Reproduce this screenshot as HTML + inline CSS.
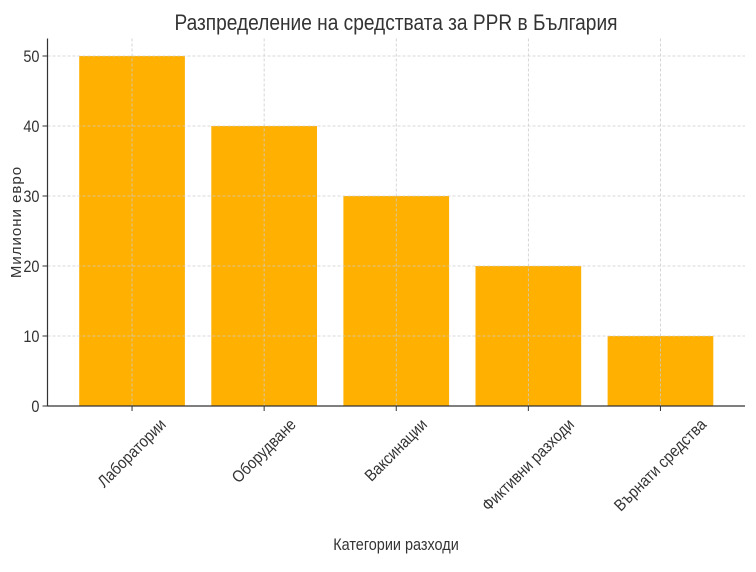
<!DOCTYPE html>
<html><head><meta charset="utf-8"><style>
body{margin:0;background:#fff}
svg text{font-family:"Liberation Sans","DejaVu Sans",sans-serif;fill:#333}
</style></head><body>
<svg id="chart" width="756" height="567" viewBox="0 0 756 567">
<text x="396" y="30" text-anchor="middle" font-size="22.5" transform="translate(396 0) scale(0.85 1) translate(-396 0)">Разпределение на средствата за PPR в България</text>
<g id="bars"></g>
<g id="grid"></g>
<g id="axes"></g>
<text x="396" y="550" text-anchor="middle" font-size="17" transform="translate(396 0) scale(0.85 1) translate(-396 0)">Категории разходи</text>
<text x="21" y="222" text-anchor="middle" font-size="15" letter-spacing="1" transform="rotate(-90 21 222)">Милиони евро</text>
</svg>
<script>
const categories=["Лаборатории","Оборудване","Ваксинации","Фиктивни разходи","Върнати средства"];
const values=[50,40,30,20,10];
const yTicks=[0,10,20,30,40,50];
const NS="http://www.w3.org/2000/svg";
const L=47.5,R=745,T=38.5,B=406,yMax=52.5;
const step=(R-L)/5.28;
const x=i=>L+(i+0.64)*step;
const y=v=>B-(v/yMax)*(B-T);
function mk(tag,attrs,parent){const e=document.createElementNS(NS,tag);for(const k in attrs)e.setAttribute(k,attrs[k]);parent.appendChild(e);return e;}
const bars=document.getElementById('bars'),grid=document.getElementById('grid'),axes=document.getElementById('axes');
values.forEach((v,i)=>{
  const r=mk('rect',{x:x(i)-0.4*step,y:y(v),width:0.8*step,height:B-y(v),fill:'#ffb000'},bars);
  
  
  const g=mk('line',{x1:x(i),x2:x(i),y1:T,y2:B,stroke:'#ccc','stroke-dasharray':'3,2','stroke-width':0.8},grid);
  
  
  mk('line',{x1:x(i),x2:x(i),y1:B,y2:B+5,stroke:'#333'},axes);
  const t=mk('text',{x:0,y:0,'text-anchor':'middle','font-size':16.5},axes);
  t.textContent=categories[i];
  
  
  const w=t.getComputedTextLength()*0.88;
  const cy=B+9+(w*0.707+14)/2;
  t.setAttribute('transform',`translate(${x(i)} ${cy}) rotate(-45) scale(0.88 1) translate(0 5)`);
});
yTicks.forEach(v=>{
  const g=mk('line',{x1:L,x2:R,y1:y(v),y2:y(v),stroke:'#ccc','stroke-dasharray':'3,2','stroke-width':0.8},grid);
  
  
  mk('line',{x1:L-5,x2:L,y1:y(v),y2:y(v),stroke:'#333'},axes);
  const t=mk('text',{x:0,y:0,'text-anchor':'end','font-size':16.5,transform:`translate(${L-8} ${y(v)+6}) scale(0.88 1)`},axes);
  t.textContent=v;
  
  
});
const ya=mk('line',{x1:L,x2:L,y1:T,y2:B,stroke:'#333','stroke-width':1.2},axes);


const xa=mk('line',{x1:L,x2:R,y1:B,y2:B,stroke:'#333','stroke-width':1.2},axes);


</script>
</body></html>
